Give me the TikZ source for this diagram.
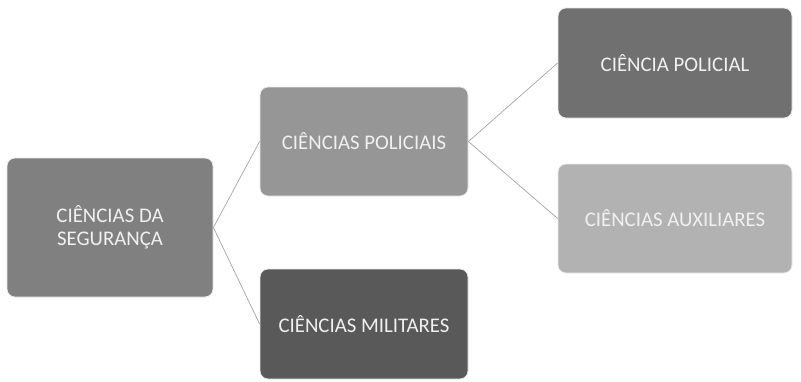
\documentclass[tikz,border=0pt]{standalone}
\usepackage{fontspec}
\setmainfont{Carlito}
\begin{document}
\begin{tikzpicture}[x=1pt,y=-1pt,
  box/.style={draw=white!92!black,line width=0.8pt,rounded corners=8pt,inner sep=0pt,
    text=white!94!black,align=center,font=\fontsize{20.8}{23}\selectfont},
  link/.style={draw=black!35,line width=0.7pt}]
\useasboundingbox[fill=white] (0,0) rectangle (801,381);
\node[box,fill=black!50,minimum width=206pt,minimum height=139pt] (seg) at (110,227.5) {CIÊNCIAS DA\\SEGURANÇA};
\node[box,fill=black!41,minimum width=208pt,minimum height=109pt] (pol) at (364,141.5) {CIÊNCIAS POLICIAIS};
\node[box,fill=black!65,minimum width=208pt,minimum height=110pt] (mil) at (364,324) {CIÊNCIAS MILITARES};
\node[box,fill=black!56,minimum width=234pt,minimum height=110pt] (cp) at (675,63) {CIÊNCIA POLICIAL};
\node[box,fill=black!30,minimum width=234pt,minimum height=109pt] (aux) at (675,218.5) {CIÊNCIAS AUXILIARES};
\draw[link] (seg.east) -- (pol.west);
\draw[link] (seg.east) -- (mil.west);
\draw[link] (pol.east) -- (cp.west);
\draw[link] (pol.east) -- (aux.west);
\end{tikzpicture}
\end{document}
